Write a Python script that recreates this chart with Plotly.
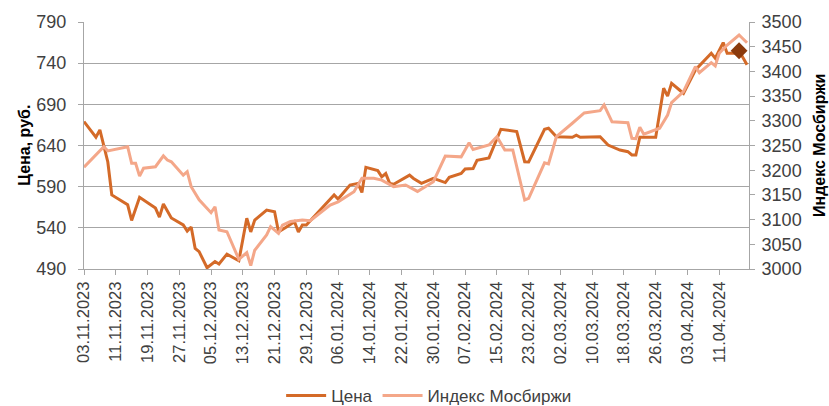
import plotly.graph_objects as go

# ---- data ----
price_dates = [
    "2023-11-03", "2023-11-06", "2023-11-07", "2023-11-08", "2023-11-09", "2023-11-10",
    "2023-11-14", "2023-11-15", "2023-11-17", "2023-11-21", "2023-11-22", "2023-11-23",
    "2023-11-25", "2023-11-28", "2023-11-29", "2023-11-30", "2023-12-01", "2023-12-02",
    "2023-12-04", "2023-12-06", "2023-12-07", "2023-12-09", "2023-12-12", "2023-12-14",
    "2023-12-15", "2023-12-16", "2023-12-19", "2023-12-21", "2023-12-22", "2023-12-24",
    "2023-12-26", "2023-12-27", "2023-12-28", "2023-12-29", "2024-01-05", "2024-01-06",
    "2024-01-09", "2024-01-11", "2024-01-12", "2024-01-13", "2024-01-16", "2024-01-17",
    "2024-01-18", "2024-01-19", "2024-01-20", "2024-01-24", "2024-01-25", "2024-01-27",
    "2024-01-30", "2024-02-02", "2024-02-03", "2024-02-06", "2024-02-07", "2024-02-09",
    "2024-02-10", "2024-02-13", "2024-02-16", "2024-02-20", "2024-02-22", "2024-02-23",
    "2024-02-27", "2024-02-28", "2024-03-01", "2024-03-05", "2024-03-06", "2024-03-07",
    "2024-03-12", "2024-03-14", "2024-03-17", "2024-03-19", "2024-03-20", "2024-03-21",
    "2024-03-22", "2024-03-26", "2024-03-28", "2024-03-29", "2024-03-30", "2024-04-01",
    "2024-04-02", "2024-04-05", "2024-04-09", "2024-04-10", "2024-04-12", "2024-04-13",
    "2024-04-15", "2024-04-16", "2024-04-18",
]
price_values = [
    669, 650, 659, 640, 620, 580,
    568, 549, 577, 564, 553, 569,
    552, 543.5, 536, 541, 515, 511,
    491.5, 499, 496, 508, 500, 551.6,
    535, 549.5, 561.6, 559.6, 535, 541,
    547.5, 535, 543.5, 543.5, 580, 575,
    592, 594, 583, 613.5, 609.5, 602,
    606, 594, 593, 604, 600, 594,
    600, 595, 601.4, 606, 611.5, 612,
    622, 625, 659.7, 657, 620.3, 620,
    659.7, 661, 650.7, 650, 652.5, 650,
    650.7, 640.6, 634.5, 632.5, 628.5, 628.5,
    650, 650, 709.5, 700, 715.5, 707.4,
    703.4, 731.7, 752, 746, 765, 752,
    752, 755, 738,
]

index_dates = [
    "2023-11-03", "2023-11-08", "2023-11-09", "2023-11-14", "2023-11-15", "2023-11-16",
    "2023-11-17", "2023-11-18", "2023-11-21", "2023-11-23", "2023-11-24", "2023-11-25",
    "2023-11-28", "2023-11-29", "2023-11-30", "2023-12-02", "2023-12-05", "2023-12-06",
    "2023-12-07", "2023-12-09", "2023-12-12", "2023-12-14", "2023-12-15", "2023-12-16",
    "2023-12-19", "2023-12-20", "2023-12-22", "2023-12-23", "2023-12-25", "2023-12-28",
    "2023-12-30", "2024-01-04", "2024-01-06", "2024-01-10", "2024-01-12", "2024-01-15",
    "2024-01-17", "2024-01-20", "2024-01-23", "2024-01-24", "2024-01-26", "2024-01-30",
    "2024-02-02", "2024-02-06", "2024-02-08", "2024-02-09", "2024-02-13", "2024-02-15",
    "2024-02-17", "2024-02-19", "2024-02-20", "2024-02-22", "2024-02-23", "2024-02-27",
    "2024-02-28", "2024-03-01", "2024-03-05", "2024-03-06", "2024-03-07", "2024-03-08",
    "2024-03-12", "2024-03-13", "2024-03-15", "2024-03-19", "2024-03-20", "2024-03-21",
    "2024-03-22", "2024-03-23", "2024-03-27", "2024-03-29", "2024-03-30", "2024-04-02",
    "2024-04-05", "2024-04-06", "2024-04-09", "2024-04-10", "2024-04-11", "2024-04-13",
    "2024-04-16", "2024-04-18",
]
index_values = [
    3206, 3247.6, 3239, 3247.6, 3214, 3214,
    3188, 3204, 3207, 3229, 3220.6, 3217,
    3190, 3197, 3166.6, 3140, 3114, 3126,
    3079, 3075.5, 3019.6, 3033, 3007, 3038,
    3069, 3085.6, 3072, 3089, 3096, 3099,
    3097.6, 3129.5, 3136, 3156.5, 3183.6, 3183.6,
    3180, 3166.6, 3170, 3166, 3157, 3176.7,
    3228.7, 3227, 3255.7, 3242, 3251, 3268,
    3241, 3241, 3208.5, 3139.7, 3143, 3215,
    3212.6, 3268, 3295, 3301.6, 3309.7, 3316,
    3320.5, 3332, 3298, 3296, 3264.6, 3264,
    3287, 3273, 3285, 3311.7, 3336.7, 3359,
    3409.6, 3397.4, 3417.6, 3411, 3436.6, 3453.4,
    3473.7, 3458,
]

highlight_date = ["2024-04-16"]
highlight_value = [755]

tick_dates = [
    "2023-11-03", "2023-11-11", "2023-11-19", "2023-11-27", "2023-12-05", "2023-12-13",
    "2023-12-21", "2023-12-29", "2024-01-06", "2024-01-14", "2024-01-22", "2024-01-30",
    "2024-02-07", "2024-02-15", "2024-02-23", "2024-03-02", "2024-03-10", "2024-03-18",
    "2024-03-26", "2024-04-03", "2024-04-11",
]
tick_labels = [
    "03.11.2023", "11.11.2023", "19.11.2023", "27.11.2023", "05.12.2023", "13.12.2023",
    "21.12.2023", "29.12.2023", "06.01.2024", "14.01.2024", "22.01.2024", "30.01.2024",
    "07.02.2024", "15.02.2024", "23.02.2024", "02.03.2024", "10.03.2024", "18.03.2024",
    "26.03.2024", "03.04.2024", "11.04.2024",
]

price_name = "Цена"
index_name = "Индекс Мосбиржи"
left_title = "Цена, руб."
right_title = "Индекс Мосбиржи"

# ---- style ----
FONT = "Liberation Sans Narrow, Liberation Sans, Arial, sans-serif"
PRICE_COLOR = "#D46A28"
INDEX_COLOR = "#F4A789"
MARK_COLOR = "#8B3A0C"
GRID = "#A6A6A6"
TEXT = "#404040"

fig = go.Figure()
fig.add_trace(go.Scatter(
    x=index_dates, y=index_values, name=index_name, yaxis="y2",
    mode="lines", line=dict(color=INDEX_COLOR, width=3),
))
fig.add_trace(go.Scatter(
    x=price_dates, y=price_values, name=price_name, yaxis="y",
    mode="lines", line=dict(color=PRICE_COLOR, width=3),
))
fig.add_trace(go.Scatter(
    x=highlight_date, y=highlight_value, yaxis="y", mode="markers",
    marker=dict(symbol="diamond", size=13, color=MARK_COLOR),
    showlegend=False,
))

fig.update_layout(
    width=829, height=406,
    margin=dict(l=84, r=80, t=22, b=137, autoexpand=False),
    paper_bgcolor="white", plot_bgcolor="white",
    font=dict(family=FONT, size=17, color=TEXT),
    showlegend=True,
    legend=dict(
        orientation="h", x=0.519, xanchor="center", y=-0.514, yanchor="middle",
        font=dict(family=FONT, size=17, color=TEXT),
        bgcolor="rgba(0,0,0,0)",
        traceorder="reversed", itemwidth=40,
    ),
    xaxis=dict(
        type="date",
        range=["2023-11-03", "2024-04-18 12:00"],
        tickmode="array", tickvals=tick_dates, ticktext=tick_labels,
        tickangle=-90, tickfont=dict(size=16.5, color=TEXT, family=FONT),
        ticks="outside", ticklen=5, tickcolor=GRID,
        showline=True, linecolor=GRID, linewidth=1,
        showgrid=False, zeroline=False, automargin=False,
    ),
    yaxis=dict(
        range=[490, 790], dtick=50, tick0=490,
        tickfont=dict(size=18, color=TEXT, family=FONT),
        ticks="outside", ticklen=5, tickcolor=GRID, ticklabelstandoff=8,
        showline=True, linecolor=GRID, linewidth=1,
        showgrid=True, gridcolor=GRID, gridwidth=1, zeroline=False,
        automargin=False,
    ),
    yaxis2=dict(
        range=[3000, 3500], dtick=50, tick0=3000,
        overlaying="y", side="right",
        tickfont=dict(size=18, color=TEXT, family=FONT),
        ticks="outside", ticklen=5, tickcolor=GRID, ticklabelstandoff=3,
        showline=True, linecolor=GRID, linewidth=1,
        showgrid=False, zeroline=False, automargin=False,
    ),
    annotations=[
        dict(text="<b>" + left_title + "</b>", xref="paper", yref="paper",
             x=-0.090, y=0.5, xanchor="center", yanchor="middle", textangle=-90,
             showarrow=False, font=dict(family=FONT, size=16, color="#000000")),
        dict(text="<b>" + right_title + "</b>", xref="paper", yref="paper",
             x=1.106, y=0.5, xanchor="center", yanchor="middle", textangle=-90,
             showarrow=False, font=dict(family=FONT, size=16, color="#000000")),
    ],
)

fig.write_html(
    "out.html",
    config={"displayModeBar": False},
    post_script="document.body.style.margin='0px';document.body.style.overflow='hidden';",
)
